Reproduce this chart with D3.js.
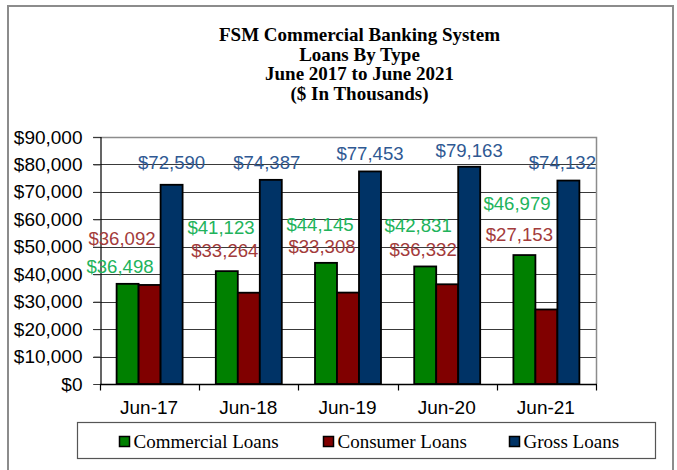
<!DOCTYPE html>
<html>
<head>
<meta charset="utf-8">
<script src="https://cdn.jsdelivr.net/npm/d3@7/dist/d3.min.js"></script>
<style>
  html, body { margin: 0; padding: 0; background: #fff; }
  svg { display: block; }
</style>
</head>
<body>
<svg id="chart" width="677" height="470"></svg>
<script>
// ---- data ----
const categories = ["Jun-17", "Jun-18", "Jun-19", "Jun-20", "Jun-21"];
const seriesNames = ["Commercial Loans", "Consumer Loans", "Gross Loans"];
const commercialLoans = [36498, 41123, 44145, 42831, 46979];
const consumerLoans = [36092, 33264, 33308, 36332, 27153];
const grossLoans = [72590, 74387, 77453, 79163, 74132];
const yTicks = [0, 10000, 20000, 30000, 40000, 50000, 60000, 70000, 80000, 90000];
const titleLines = ["FSM Commercial Banking System", "Loans By Type", "June 2017 to June 2021", "($ In Thousands)"];

// ---- styling / label placement (not data) ----
const barColors = ["#008000", "#800000", "#003366"];
const labelColors = ["#21b35b", "#a33b3b", "#2f5993"];
// label nudges [dx from bar center, dy from bar top] as placed in the original
const labelNudge = [
  [[-7.6, -17], [-5.8, -44], [-6, -38], [-7, -40.5], [-7.4, -52]],
  [[-27.6, -46], [-24, -42], [-26, -45.6], [-24, -35], [-27, -75]],
  [[0, -22], [-4, -17], [0, -17.5], [0, -16], [-6, -17.6]]
];

const values = [commercialLoans, consumerLoans, grossLoans];
const svg = d3.select("#chart");

// outer frame
svg.append("rect").attr("x", 8).attr("y", 6).attr("width", 665).attr("height", 480)
  .attr("fill", "#fff").attr("stroke", "#8c8c8c").attr("stroke-width", 2);

// title
svg.append("g").selectAll("text").data(titleLines).join("text")
  .attr("x", 359.5).attr("y", (d, i) => 41 + i * 19.6)
  .attr("text-anchor", "middle")
  .attr("font-family", "'Liberation Serif', 'Times New Roman', serif")
  .attr("font-weight", "bold").attr("font-size", 19).attr("fill", "#000")
  .text(d => d);

const plot = { left: 100, right: 596, top: 137, bottom: 384 };
const x = d3.scaleBand().domain(categories).range([plot.left, plot.right]).paddingInner(0).paddingOuter(0);
const xs = d3.scaleBand().domain(d3.range(3)).range([0, x.bandwidth()]).paddingInner(0).paddingOuter(0.755);
const y = d3.scaleLinear().domain([0, 90000]).range([plot.bottom, plot.top]);

// gridlines
svg.append("g").selectAll("line").data(yTicks.filter(t => t > 0 && t < 90000)).join("line")
  .attr("x1", plot.left - 7).attr("x2", plot.right)
  .attr("y1", d => Math.round(y(d)) + 0.5).attr("y2", d => Math.round(y(d)) + 0.5)
  .attr("stroke", "#3a3a3a").attr("stroke-width", 1);

// plot border top/right (gray)
svg.append("path")
  .attr("d", `M${plot.left - 7},${plot.top + 0.5}H${plot.right + 0.5}V${plot.bottom}`)
  .attr("fill", "none").attr("stroke", "#8c8c8c").attr("stroke-width", 1.5);

// y axis
const yAxis = d3.axisLeft(y).tickValues(yTicks).tickSize(7).tickPadding(11)
  .tickFormat(d => "$" + d3.format(",")(d));
const gy = svg.append("g").attr("transform", `translate(${plot.left + 0.5},0)`).call(yAxis);
gy.select(".domain").attr("stroke", "#000").attr("stroke-width", 1.2);
gy.selectAll(".tick line").attr("stroke", "#3a3a3a");
gy.selectAll(".tick text").attr("font-family", "'Liberation Sans', Arial, sans-serif")
  .attr("font-size", 19).attr("fill", "#000");

// x axis
const gx = svg.append("g").attr("transform", `translate(0,${plot.bottom + 0.5})`);
gx.append("line").attr("x1", plot.left).attr("x2", plot.right + 1).attr("y1", 0).attr("y2", 0)
  .attr("stroke", "#000").attr("stroke-width", 1.5);
const boundaries = categories.map(c => x(c)).concat([x(categories[categories.length - 1]) + x.bandwidth()]);
gx.selectAll("line.tk").data(boundaries).join("line").attr("class", "tk")
  .attr("x1", d => Math.round(d) + 0.5).attr("x2", d => Math.round(d) + 0.5)
  .attr("y1", 0).attr("y2", 6).attr("stroke", "#000").attr("stroke-width", 1.2);
gx.selectAll("text").data(categories).join("text")
  .attr("x", d => x(d) + x.bandwidth() / 2 - 0.5).attr("y", 29)
  .attr("text-anchor", "middle")
  .attr("font-family", "'Liberation Sans', Arial, sans-serif").attr("font-size", 19).attr("fill", "#000")
  .text(d => d);

// bars
const barData = [];
values.forEach((arr, s) => arr.forEach((v, i) => barData.push({ s, i, v, c: categories[i] })));
svg.append("g").selectAll("rect").data(barData).join("rect")
  .attr("x", d => x(d.c) + xs(d.s))
  .attr("y", d => y(d.v))
  .attr("width", xs.bandwidth())
  .attr("height", d => plot.bottom - y(d.v))
  .attr("fill", d => barColors[d.s])
  .attr("stroke", "#000").attr("stroke-width", 1.8);

// value labels
svg.append("g").selectAll("text").data(barData).join("text")
  .attr("x", d => x(d.c) + xs(d.s) + xs.bandwidth() / 2 + labelNudge[d.s][d.i][0])
  .attr("y", d => y(d.v) + labelNudge[d.s][d.i][1])
  .attr("dy", "0.35em")
  .attr("text-anchor", "middle")
  .attr("font-family", "'Liberation Sans', Arial, sans-serif").attr("font-size", 18.6)
  .attr("fill", d => labelColors[d.s])
  .text(d => "$" + d3.format(",")(d.v));

// legend
const lg = svg.append("g");
lg.append("rect").attr("x", 77.5).attr("y", 422.5).attr("width", 578).attr("height", 36)
  .attr("fill", "#fff").attr("stroke", "#555").attr("stroke-width", 1.2);
const legendX = [119, 323, 509];
const items = lg.selectAll("g.item").data(seriesNames).join("g").attr("class", "item")
  .attr("transform", (d, i) => `translate(${legendX[i]},436)`);
items.append("rect").attr("x", 0.5).attr("y", 0.5).attr("width", 10).attr("height", 10)
  .attr("fill", (d, i) => barColors[i]).attr("stroke", "#000").attr("stroke-width", 1.5);
items.append("text").attr("x", 14.5).attr("y", 12)
  .attr("font-family", "'Liberation Serif', 'Times New Roman', serif").attr("font-size", 19)
  .attr("fill", "#000").text(d => d);
</script>
</body>
</html>
